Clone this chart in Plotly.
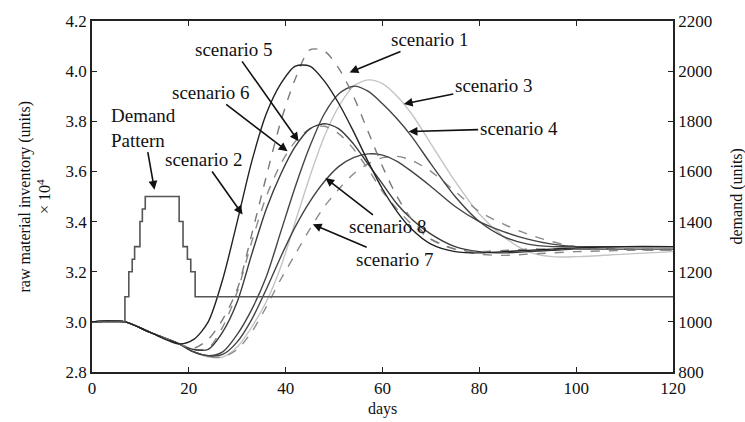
import plotly.graph_objects as go

# ---------------- data ----------------
days = [0, 6.8, 12, 18, 21, 24, 27, 30, 33, 36, 39, 42, 45, 48, 51, 54, 57, 60,
        63, 66, 70, 75, 80, 85, 90, 95, 100, 110, 120]

# raw material inventory (x 10^4 units)
scenario_1 = [3.0, 3.0, 2.958, 2.912, 2.895, 2.93, 3.01, 3.13, 3.35, 3.58, 3.80, 3.97, 4.085, 4.08,
              4.01, 3.90, 3.76, 3.62, 3.50, 3.41, 3.33, 3.29, 3.28, 3.285, 3.29, 3.29, 3.29, 3.29, 3.29]
scenario_2 = [3.0, 3.0, 2.958, 2.912, 2.93, 3.0, 3.17, 3.40, 3.64, 3.83, 3.95, 4.02, 4.02, 3.96,
              3.87, 3.76, 3.64, 3.53, 3.44, 3.37, 3.31, 3.28, 3.275, 3.28, 3.285, 3.29, 3.295, 3.30, 3.30]
scenario_3 = [3.0, 3.0, 2.958, 2.912, 2.88, 2.86, 2.86, 2.90, 2.98, 3.08, 3.22, 3.40, 3.58, 3.74,
              3.86, 3.94, 3.965, 3.95, 3.90, 3.83, 3.71, 3.56, 3.43, 3.34, 3.28, 3.26, 3.26, 3.27, 3.28]
scenario_4 = [3.0, 3.0, 2.958, 2.912, 2.88, 2.865, 2.88, 2.95, 3.05, 3.18, 3.36, 3.54, 3.70, 3.83,
              3.91, 3.94, 3.92, 3.87, 3.81, 3.74, 3.63, 3.50, 3.40, 3.34, 3.31, 3.30, 3.30, 3.30, 3.30]
scenario_5 = [3.0, 3.0, 2.958, 2.912, 2.89, 2.89, 2.96, 3.08, 3.27, 3.45, 3.59, 3.70, 3.77, 3.79,
              3.77, 3.71, 3.63, 3.55, 3.47, 3.41, 3.35, 3.30, 3.28, 3.275, 3.28, 3.285, 3.29, 3.29, 3.29]
scenario_6 = [3.0, 3.0, 2.958, 2.912, 2.89, 2.895, 2.98, 3.12, 3.32, 3.50, 3.63, 3.72, 3.77, 3.78,
              3.75, 3.69, 3.61, 3.52, 3.45, 3.39, 3.33, 3.29, 3.27, 3.265, 3.27, 3.275, 3.28, 3.285, 3.285]
scenario_7 = [3.0, 3.0, 2.958, 2.912, 2.88, 2.862, 2.86, 2.89, 2.96, 3.06, 3.17, 3.27, 3.37, 3.46,
              3.53, 3.59, 3.63, 3.655, 3.66, 3.645, 3.60, 3.52, 3.44, 3.39, 3.35, 3.32, 3.30, 3.29, 3.285]
scenario_8 = [3.0, 3.0, 2.958, 2.912, 2.88, 2.865, 2.87, 2.92, 3.01, 3.13, 3.26, 3.38, 3.48, 3.56,
              3.62, 3.655, 3.67, 3.665, 3.64, 3.60, 3.54, 3.46, 3.40, 3.36, 3.33, 3.31, 3.30, 3.30, 3.30]

# demand pattern (units), right axis
demand_days = [0, 6.8, 7.6, 8.3, 8.8, 9.9, 10.4, 11.0, 18.0, 18.8, 19.7, 20.4, 21.3, 120]
demand_units = [1000, 1100, 1200, 1250, 1300, 1400, 1450, 1500, 1400, 1300, 1250, 1200, 1100, 1100]

x_ticks = [0, 20, 40, 60, 80, 100, 120]
left_ticks = [2.8, 3.0, 3.2, 3.4, 3.6, 3.8, 4.0, 4.2]
right_ticks = [800, 1000, 1200, 1400, 1600, 1800, 2000, 2200]

# ---------------- figure ----------------
FONT = "Liberation Serif"
fig = go.Figure()

styles = [
    (scenario_3, "#c4c4c4", "solid"),
    (scenario_7, "#8a8a8a", "dash"),
    (scenario_8, "#444444", "solid"),
    (scenario_4, "#444444", "solid"),
    (scenario_6, "#8a8a8a", "dash"),
    (scenario_5, "#3a3a3a", "solid"),
    (scenario_1, "#7a7a7a", "dash"),
    (scenario_2, "#222222", "solid"),
]
for vals, col, dash in styles:
    fig.add_trace(go.Scatter(x=days, y=vals, mode="lines", showlegend=False,
                             line=dict(color=col, width=1.4, dash=dash,
                                       shape="spline", smoothing=0.8)))

fig.add_trace(go.Scatter(x=demand_days, y=demand_units, yaxis="y2", mode="lines",
                         showlegend=False,
                         line=dict(color="#555555", width=1.6, shape="hv")))

axis_common = dict(showgrid=False, zeroline=False, showline=True, linecolor="#222222",
                   linewidth=1.6, ticks="inside", ticklen=5, tickwidth=1.4,
                   tickcolor="#222222", tickfont=dict(family=FONT, size=17, color="#111111"))

fig.update_layout(
    width=745, height=422,
    margin=dict(l=92, r=72, t=16, b=50),
    paper_bgcolor="white", plot_bgcolor="white",
    font=dict(family=FONT, color="#111111"),
    xaxis=dict(range=[0, 120], tickvals=x_ticks, mirror="ticks", **axis_common),
    yaxis=dict(range=[2.8, 4.2], tickvals=left_ticks, tickformat=".1f", **axis_common),
    yaxis2=dict(range=[800, 2200], tickvals=right_ticks, overlaying="y", side="right",
                **axis_common),
)

labels = [
    ("scenario 5", 42.67, 3.720, -65, -92),
    ("scenario 6", 40.39, 3.680, -77, -59),
    ("scenario 2", 31.1, 3.428, -39, -55),
    ("scenario 1", 53.2, 3.995, 80, -33),
    ("scenario 3", 64.4, 3.869, 90, -18),
    ("scenario 4", 65.4, 3.759, 110, -3),
    ("scenario 8", 48.2, 3.574, 63, 49),
    ("scenario 7", 45.6, 3.389, 82, 35),
    ("Demand<br>Pattern", 12.9, 3.527, -11, -62),
]
for text, xd, yd, ax, ay in labels:
    fig.add_annotation(x=xd, y=yd, xref="x", yref="y", text=text, showarrow=True,
                       ax=ax, ay=ay, align="left",
                       arrowhead=2, arrowsize=1.1, arrowwidth=1.6, arrowcolor="#111111",
                       font=dict(family=FONT, size=19, color="#111111"))

fig.add_annotation(xref="paper", yref="paper", x=0, y=0.5, xshift=-58,
                   xanchor="center", yanchor="middle",
                   text="raw material inventory (units)<br>× 10<sup>4</sup>",
                   textangle=-90, showarrow=False,
                   font=dict(family=FONT, size=16, color="#111111"))
fig.add_annotation(xref="paper", yref="paper", x=1, y=0.5, xshift=63,
                   xanchor="center", yanchor="middle",
                   text="demand (units)", textangle=-90, showarrow=False,
                   font=dict(family=FONT, size=16, color="#111111"))
fig.add_annotation(xref="paper", yref="paper", x=0.5, y=0, yshift=-37,
                   xanchor="center", yanchor="middle",
                   text="days", showarrow=False,
                   font=dict(family=FONT, size=16, color="#111111"))

fig.write_html("out.html", config={"displayModeBar": False},
               post_script="document.body.style.margin='0';document.body.style.padding='0';")
